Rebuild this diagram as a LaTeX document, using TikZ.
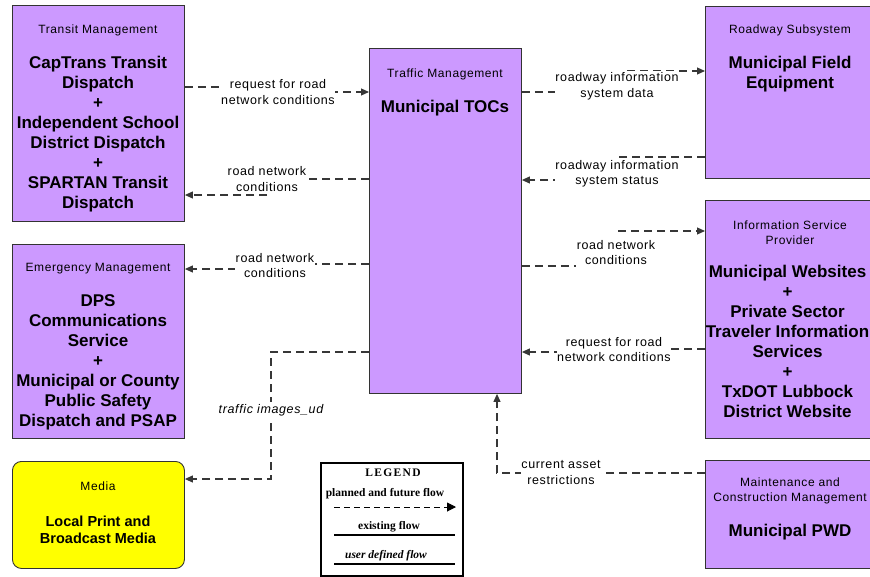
\documentclass[tikz,border=0pt]{standalone}
\usepackage{fontspec}
\setmainfont{Liberation Sans}
\newfontfamily\spacedfont[LetterSpace=5]{Liberation Sans}
\newfontfamily\legfont{Liberation Serif}
\newfontfamily\legtitlefont[LetterSpace=12]{Liberation Serif}
\usetikzlibrary{arrows.meta}
\definecolor{boxpurple}{RGB}{204,153,255}
\definecolor{mediayellow}{RGB}{255,255,0}
\definecolor{flowgray}{RGB}{55,55,55}
\tikzset{
  sysbox/.style={draw=black!80, line width=0.9pt, fill=boxpurple, rectangle, inner sep=0pt, anchor=north west},
  mediabox/.style={sysbox, fill=mediayellow, rounded corners=9pt},
  cat/.style={font=\spacedfont\fontsize{12}{15}\selectfont, align=center, inner sep=0pt},
  mainname/.style={font=\fontsize{17}{20}\bfseries\selectfont, align=center, inner sep=0pt, anchor=north},
  medianame/.style={font=\fontsize{14.5}{17}\bfseries\selectfont, align=center, inner sep=0pt, anchor=north},
  flowlabel/.style={font=\spacedfont\fontsize{12.5}{15.5}\selectfont, align=center, fill=white, inner xsep=0.5pt, inner ysep=2pt},
  flow/.style={draw=flowgray, line width=1.1pt, dash pattern=on 8pt off 5pt, -{Triangle[length=8pt,width=7pt]}},
  legtext/.style={font=\legfont\bfseries\fontsize{11.5}{13}\selectfont, inner sep=0pt},
}
\begin{document}
\begin{tikzpicture}[x=1pt,y=-1pt]
\clip (0,0) rectangle (870,576);

% boxes
\node[sysbox, minimum width=172pt, minimum height=216pt] (tm) at (12,5) {};
\node[sysbox, minimum width=172pt, minimum height=194pt] (em) at (12,244) {};
\node[mediabox, minimum width=172pt, minimum height=107pt] (media) at (12,461) {};
\node[sysbox, minimum width=152pt, minimum height=345pt] (toc) at (369,48) {};
\node[sysbox, minimum width=172pt, minimum height=172pt] (rs) at (705,6) {};
\node[sysbox, minimum width=172pt, minimum height=238pt] (isp) at (705,200) {};
\node[sysbox, minimum width=172pt, minimum height=108pt] (mcm) at (705,460) {};
\node[draw=black, line width=1.5pt, fill=white, rectangle, inner sep=0pt, anchor=north west,
      minimum width=142pt, minimum height=113pt] (legend) at (320,462) {};

% box texts
\node[cat] (tmcat) at (98,30) {Transit Management};
\node[mainname] (tmname) at (98,56) {CapTrans Transit\\Dispatch\\+\\Independent School\\District Dispatch\\+\\SPARTAN Transit\\Dispatch};
\node[cat] (emcat) at (98,269) {Emergency Management};
\node[mainname] (emname) at (98,294) {DPS\\Communications\\Service\\+\\Municipal or County\\Public Safety\\Dispatch and PSAP};
\node[cat] (mediacat) at (98,486) {Media};
\node[medianame] (medianame) at (98,515.5) {Local Print and\\Broadcast Media};
\node[cat] (toccat) at (445,74) {Traffic Management};
\node[mainname] (tocname) at (445,100) {Municipal TOCs};
\node[cat] (rscat) at (790,30) {Roadway Subsystem};
\node[mainname] (rsname) at (790,56) {Municipal Field\\Equipment};
\node[cat] (ispcat) at (790,232.5) {Information Service\\Provider};
\node[mainname] (ispname) at (787.5,265) {Municipal Websites\\+\\Private Sector\\Traveler Information\\Services\\+\\TxDOT Lubbock\\District Website};
\node[cat] (mcmcat) at (790,491) {Maintenance and\\Construction Management};
\node[mainname] (mcmname) at (790,524) {Municipal PWD};

% flows (the jog of each flow lies behind its label)
\draw[flow] (tm.east |- 0,87) -- (278,87) (278,92) -- (toc.west |- 0,92);
\node[flowlabel] (l1) at (278,92) {request for road\\network conditions};

\draw[flow] (toc.west |- 0,179) -- (267,179) (267,195) -- (tm.east |- 0,195);
\node[flowlabel] (l2) at (267,179) {road network\\conditions};

\draw[flow] (toc.west |- 0,264) -- (275,264) (275,269) -- (em.east |- 0,269);
\node[flowlabel] (l3) at (275,265.5) {road network\\conditions};

\draw[flow] (toc.west |- 0,352) -- (271,352) -- (271,479) -- (media.east |- 0,479);
\node[flowlabel, font=\spacedfont\itshape\fontsize{12.5}{15.5}\selectfont] (l4) at (271,410) {traffic images\_ud};

\draw[flow] (toc.east |- 0,92) -- (600,92) (627,71) -- (rs.west |- 0,71);
\node[flowlabel] (l5) at (617,86.5) {roadway information\\system data};

\draw[flow] (rs.west |- 0,157) -- (618,157) (600,180) -- (toc.east |- 0,180);
\node[flowlabel] (l6) at (617,174) {roadway information\\system status};

\draw[flow] (toc.east |- 0,266) -- (600,266) (618,231) -- (isp.west |- 0,231);
\node[flowlabel] (l7) at (616,252.5) {road network\\conditions};

\draw[flow] (isp.west |- 0,349) -- (614,349) (614,352) -- (toc.east |- 0,352);
\node[flowlabel] (l8) at (614,349.5) {request for road\\network conditions};

\draw[flow] (mcm.west |- 0,473) -- (497,473) -- (toc.south -| 497,0);
\node[flowlabel] (l9) at (561,472.5) {current asset\\restrictions};

% legend
\node[legtext, font=\legtitlefont\bfseries\fontsize{11.5}{13}\selectfont] (legtitle) at (393,473) {LEGEND};
\node[legtext] (legplanned) at (385,494) {planned and future flow};
\coordinate (lpa) at (334,507);
\coordinate (lpb) at (456,507);
\draw[black, line width=1pt, dash pattern=on 6pt off 4pt, -{Triangle[length=9pt,width=9pt]}] (lpa) -- (lpb);
\node[legtext] (legexist) at (389,527) {existing flow};
\coordinate (lea) at (334,535);
\coordinate (leb) at (455,535);
\draw[black, line width=1.4pt] (lea) -- (leb);
\node[legtext, font=\legfont\bfseries\itshape\fontsize{11.5}{13}\selectfont] (leguser) at (386,556) {user defined flow};
\coordinate (lua) at (334,564);
\coordinate (lub) at (455,564);
\draw[black, line width=1.4pt] (lua) -- (lub);
\end{tikzpicture}
\end{document}
